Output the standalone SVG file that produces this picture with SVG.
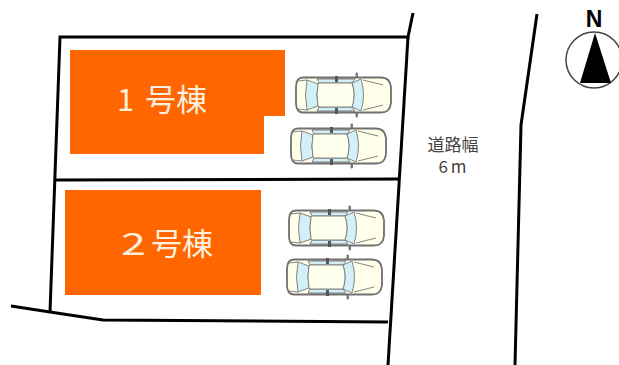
<svg xmlns="http://www.w3.org/2000/svg" width="619" height="365" viewBox="0 0 619 365">
<style>
.ln{fill:none;stroke:#000;stroke-width:3;stroke-linejoin:miter}
.bld{fill:#ff6600}
.bt{font-family:"Noto Sans CJK JP","Liberation Sans",sans-serif;font-size:31px;fill:#fdeedd}
.rd{font-family:"Noto Sans CJK JP","Liberation Sans",sans-serif;font-size:17px;fill:#444;text-anchor:middle}
.c{stroke:#777;stroke-width:.9;stroke-linejoin:round}
.g{fill:#d3eff7}
</style>
<defs>
<g id="car">
<path class="c" d="M61 -22L62.500 -22L62.500 22L61 22Z" fill="#777"/>
<path d="M8 -17.500Q1 -17.500 1 -8L1 8Q1 17.500 8 17.500L86 17.500Q95 17.500 96 8L96 -8Q95 -17.500 86 -17.500Z" fill="#ffffea" stroke="#707070" stroke-width="1.800" stroke-linejoin="round"/>
<path class="c g" d="M12 -15Q9 0 12 15L23 11Q21 0 23 -11Z"/>
<path class="c g" d="M22 -16L60 -16L57 -12L24 -12ZM22 16L60 16L57 12L24 12Z" stroke-width=".6"/>
<path class="c g" d="M57 -12Q61 0 57 12L66 16Q71 0 66 -16Z"/>
<path class="c" d="M23 -11Q21 0 23 11L24 12L57 12Q61 0 57 -12L24 -12Z" fill="#ffffee"/>
<path class="c" d="M68 -15L88 -10M68 15L88 10M3 -14L12 -15M3 14L12 15M22 -17L60 -17M22 17L60 17" fill="none" stroke-width=".8"/>
<rect x="40" y="-19" width="3" height="6" fill="#555"/>
<rect x="40" y="13" width="3" height="6" fill="#555"/>
</g>
</defs>
<rect width="619" height="365" fill="#fff"/>
<g id="connectors">
<path class="ln" d="M413 13L408 37L60 37L50 312"/>
<path class="ln" d="M11 306L50 312L103 320L388 322"/>
<path class="ln" d="M55 180L400 179"/>
<path class="ln" d="M408 37L388 365"/>
<path class="ln" d="M537 14L521 125L515 365"/>
</g>
<g id="building-1">
<path class="bld" d="M70 50H285V116H264V154H70Z"/>
<text class="bt" x="117" y="111">1</text>
<text class="bt" x="145" y="111">号棟</text>
</g>
<g id="building-2">
<rect class="bld" x="65" y="190" width="196" height="105"/>
<text class="bt" x="121" y="255" textLength="25" lengthAdjust="spacingAndGlyphs">2</text>
<text class="bt" x="151" y="255">号棟</text>
</g>
<g id="car-1"><use href="#car" transform="translate(295,95)"/></g>
<g id="car-2"><use href="#car" transform="translate(290,146)"/></g>
<g id="car-3"><use href="#car" transform="translate(288,228)"/></g>
<g id="car-4"><use href="#car" transform="translate(286,277)"/></g>
<g id="road-label">
<text class="rd" x="453" y="151">道路幅</text>
<text class="rd" x="454" y="173" letter-spacing="3">6m</text>
</g>
<g id="north">
<circle cx="594" cy="60" r="28" fill="#fff" stroke="#444" stroke-width="1.500"/>
<path d="M595 33L611 83L580 83Z" fill="#000"/>
<text x="594" y="27" font-family="Liberation Sans,sans-serif" font-size="23" font-weight="bold" text-anchor="middle">N</text>
</g>
</svg>
